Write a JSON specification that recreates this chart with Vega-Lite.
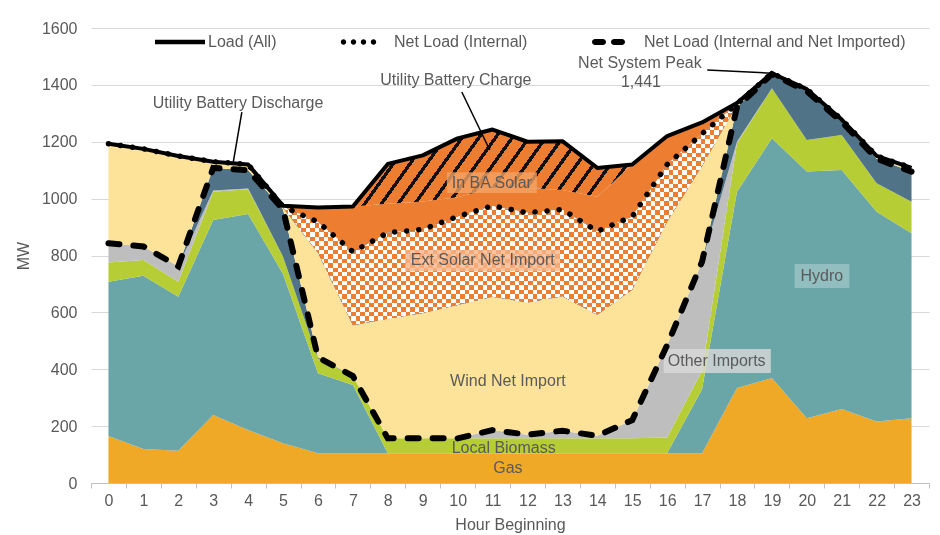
{
  "$schema": "https://vega.github.io/schema/vega-lite/v6.json",
  "width": 838,
  "height": 455,
  "autosize": {"type": "none"},
  "padding": {"left": 91, "top": 28, "right": 11, "bottom": 52},
  "background": "white",
  "config": {
    "font": "Liberation Sans",
    "view": {"stroke": null},
    "axis": {"labelFont": "Liberation Sans", "labelFontSize": 16, "labelColor": "#595959", "titleFont": "Liberation Sans", "titleFontSize": 16, "titleFontWeight": "normal", "titleColor": "#595959", "labelOverlap": false}
  },
  "resolve": {"axis": {"x": "independent", "y": "independent"}},
  "datasets": {
    "mix": [
      {"hour":0,"gas":165,"hydro":543,"biomass":67,"otherImports":68,"batteryDischarge":0,"wind":350,"extSolar":0,"inBASolar":0,"batteryCharge":0,"load":1193,"netInternal":1193,"netImported":843},
      {"hour":1,"gas":120,"hydro":609,"biomass":55,"otherImports":48,"batteryDischarge":0,"wind":343,"extSolar":0,"inBASolar":0,"batteryCharge":0,"load":1175,"netInternal":1175,"netImported":832},
      {"hour":2,"gas":113,"hydro":542,"biomass":53,"otherImports":54,"batteryDischarge":0,"wind":388,"extSolar":0,"inBASolar":0,"batteryCharge":0,"load":1150,"netInternal":1150,"netImported":762},
      {"hour":3,"gas":239,"hydro":686,"biomass":99,"otherImports":5,"batteryDischarge":79,"wind":22,"extSolar":0,"inBASolar":0,"batteryCharge":0,"load":1130,"netInternal":1130,"netImported":1108},
      {"hour":4,"gas":186,"hydro":760,"biomass":87,"otherImports":3,"batteryDischarge":64,"wind":20,"extSolar":0,"inBASolar":0,"batteryCharge":0,"load":1120,"netInternal":1120,"netImported":1100},
      {"hour":5,"gas":140,"hydro":595,"biomass":61,"otherImports":0,"batteryDischarge":166,"wind":6,"extSolar":4,"inBASolar":3,"batteryCharge":0,"load":975,"netInternal":972,"netImported":962},
      {"hour":6,"gas":105,"hydro":281,"biomass":52,"otherImports":0,"batteryDischarge":4,"wind":368,"extSolar":108,"inBASolar":51,"batteryCharge":0,"load":969,"netInternal":918,"netImported":442},
      {"hour":7,"gas":105,"hydro":240,"biomass":31,"otherImports":0,"batteryDischarge":0,"wind":179,"extSolar":258,"inBASolar":159,"batteryCharge":0,"load":972,"netInternal":813,"netImported":376},
      {"hour":8,"gas":105,"hydro":0,"biomass":52,"otherImports":0,"batteryDischarge":0,"wind":421,"extSolar":302,"inBASolar":102,"batteryCharge":140,"load":1122,"netInternal":880,"netImported":157},
      {"hour":9,"gas":105,"hydro":0,"biomass":52,"otherImports":0,"batteryDischarge":0,"wind":441,"extSolar":294,"inBASolar":98,"batteryCharge":162,"load":1152,"netInternal":892,"netImported":157},
      {"hour":10,"gas":105,"hydro":0,"biomass":52,"otherImports":0,"batteryDischarge":0,"wind":469,"extSolar":311,"inBASolar":68,"batteryCharge":207,"load":1212,"netInternal":937,"netImported":157},
      {"hour":11,"gas":105,"hydro":0,"biomass":52,"otherImports":29,"batteryDischarge":0,"wind":469,"extSolar":320,"inBASolar":63,"batteryCharge":205,"load":1243,"netInternal":975,"netImported":186},
      {"hour":12,"gas":105,"hydro":0,"biomass":52,"otherImports":13,"batteryDischarge":0,"wind":465,"extSolar":315,"inBASolar":87,"batteryCharge":163,"load":1200,"netInternal":950,"netImported":170},
      {"hour":13,"gas":105,"hydro":0,"biomass":52,"otherImports":27,"batteryDischarge":0,"wind":473,"extSolar":305,"inBASolar":68,"batteryCharge":172,"load":1202,"netInternal":962,"netImported":184},
      {"hour":14,"gas":105,"hydro":0,"biomass":52,"otherImports":9,"batteryDischarge":0,"wind":426,"extSolar":293,"inBASolar":122,"batteryCharge":101,"load":1108,"netInternal":885,"netImported":166},
      {"hour":15,"gas":105,"hydro":0,"biomass":52,"otherImports":64,"batteryDischarge":0,"wind":459,"extSolar":257,"inBASolar":183,"batteryCharge":0,"load":1120,"netInternal":937,"netImported":221},
      {"hour":16,"gas":105,"hydro":0,"biomass":55,"otherImports":325,"batteryDischarge":0,"wind":435,"extSolar":200,"inBASolar":100,"batteryCharge":0,"load":1220,"netInternal":1120,"netImported":485},
      {"hour":17,"gas":105,"hydro":225,"biomass":65,"otherImports":383,"batteryDischarge":0,"wind":337,"extSolar":113,"inBASolar":40,"batteryCharge":0,"load":1268,"netInternal":1228,"netImported":778},
      {"hour":18,"gas":334,"hydro":690,"biomass":171,"otherImports":5,"batteryDischarge":122,"wind":8,"extSolar":3,"inBASolar":3,"batteryCharge":0,"load":1336,"netInternal":1333,"netImported":1322},
      {"hour":19,"gas":369,"hydro":843,"biomass":176,"otherImports":0,"batteryDischarge":50,"wind":3,"extSolar":0,"inBASolar":0,"batteryCharge":0,"load":1441,"netInternal":1441,"netImported":1438},
      {"hour":20,"gas":228,"hydro":867,"biomass":111,"otherImports":0,"batteryDischarge":172,"wind":7,"extSolar":0,"inBASolar":0,"batteryCharge":0,"load":1385,"netInternal":1385,"netImported":1378},
      {"hour":21,"gas":260,"hydro":841,"biomass":123,"otherImports":0,"batteryDischarge":46,"wind":8,"extSolar":0,"inBASolar":0,"batteryCharge":0,"load":1278,"netInternal":1278,"netImported":1270},
      {"hour":22,"gas":216,"hydro":738,"biomass":100,"otherImports":0,"batteryDischarge":86,"wind":10,"extSolar":0,"inBASolar":0,"batteryCharge":0,"load":1150,"netInternal":1150,"netImported":1140},
      {"hour":23,"gas":228,"hydro":650,"biomass":111,"otherImports":0,"batteryDischarge":106,"wind":13,"extSolar":0,"inBASolar":0,"batteryCharge":0,"load":1108,"netInternal":1108,"netImported":1095}
    ],
    "boxes": [
      {"label":"In BA Solar","h1":9.69,"h2":12.27,"lo":1020,"hi":1093},
      {"label":"Ext Solar Net Import","h1":8.49,"h2":12.93,"lo":745,"hi":819},
      {"label":"Other Imports","h1":15.9,"h2":18.97,"lo":387,"hi":471},
      {"label":"Hydro","h1":19.65,"h2":21.22,"lo":686,"hi":770}
    ],
    "notes": [
      {"text":"In BA Solar","hour":10.98,"mw":1055},
      {"text":"Ext Solar Net Import","hour":10.72,"mw":783},
      {"text":"Wind Net Import","hour":11.44,"mw":359},
      {"text":"Other Imports","hour":17.42,"mw":429},
      {"text":"Hydro","hour":20.43,"mw":728},
      {"text":"Local Biomass","hour":11.32,"mw":123},
      {"text":"Gas","hour":11.44,"mw":53},
      {"text":"Utility Battery Discharge","hour":3.71,"mw":1336},
      {"text":"Utility Battery Charge","hour":9.95,"mw":1417},
      {"text":"Net System Peak","hour":15.22,"mw":1477},
      {"text":"1,441","hour":15.25,"mw":1410}
    ],
    "pointers": [
      {"name":"discharge","h1":3.82,"m1":1304,"h2":3.56,"m2":1118},
      {"name":"charge","h1":10.12,"m1":1375,"h2":10.92,"m2":1171},
      {"name":"peak","h1":17.15,"m1":1452,"h2":19,"m2":1441}
    ]
  },
  "data": {"name": "mix"},
  "layer": [
    {
      "mark": {"type": "point", "opacity": 0},
      "encoding": {
        "x": {"field": "hour", "type": "quantitative", "scale": {"domain": [-0.5, 23.5], "nice": false, "zero": false},
          "axis": {"orient": "bottom", "values": [0,1,2,3,4,5,6,7,8,9,10,11,12,13,14,15,16,17,18,19,20,21,22,23], "format": "d",
            "labelOverlap": false, "labelFlush": false, "labelBound": false, "grid": false, "domain": true, "domainColor": "#BFBFBF",
            "ticks": false, "labelPadding": 9, "title": "Hour Beginning", "titlePadding": 8}},
        "y": {"field": "load", "type": "quantitative", "scale": {"domain": [0, 1600], "nice": false},
          "axis": {"orient": "left", "values": [0,200,400,600,800,1000,1200,1400,1600], "format": "d", "grid": true, "gridColor": "#D9D9D9", "domain": false, "ticks": false, "labelPadding": 14, "title": "MW", "titlePadding": 10}}
      }
    },
    {
      "mark": {"type": "point", "opacity": 0},
      "encoding": {
        "x": {"field": "hour", "type": "quantitative", "scale": {"domain": [-0.5, 23.5], "nice": false, "zero": false},
          "axis": {"orient": "bottom", "values": [-0.5,0.5,1.5,2.5,3.5,4.5,5.5,6.5,7.5,8.5,9.5,10.5,11.5,12.5,13.5,14.5,15.5,16.5,17.5,18.5,19.5,20.5,21.5,22.5,23.5],
            "labels": false, "grid": false, "domain": false, "ticks": true, "tickColor": "#BFBFBF", "tickSize": 5, "title": null}},
        "y": {"field": "load", "type": "quantitative", "scale": {"domain": [0, 1600], "nice": false}, "axis": null}
      }
    },
    {
      "transform": [
        {"fold": ["gas","hydro","biomass","otherImports","batteryDischarge","wind","extSolar","inBASolar","batteryCharge"], "as": ["source","mw"]},
        {"stack": "mw", "groupby": ["hour"], "as": ["mw0","mw1"]}
      ],
      "layer": [
        {
          "transform": [{"filter": "datum.source !== 'batteryCharge'"}],
          "mark": {"type": "area", "interpolate": "linear"},
          "encoding": {
            "x": {"field": "hour", "type": "quantitative", "scale": {"domain": [-0.5, 23.5], "nice": false, "zero": false}, "axis": null},
            "y": {"field": "mw1", "type": "quantitative", "stack": null, "scale": {"domain": [0, 1600], "nice": false}, "axis": null},
            "y2": {"field": "mw0"},
            "color": {"field": "source", "type": "nominal", "legend": null,
              "scale": {"domain": ["gas","hydro","biomass","otherImports","batteryDischarge","wind","extSolar","inBASolar"],
                "range": ["#EFA926","#6AA5A7","#B6CD35","#BEBEBE","#507387","#FCE399","#F4B48A","#ED7D31"]}}
          }
        },
        {
          "transform": [{"filter": "datum.source === 'extSolar' && datum.hour >= 5 && datum.hour <= 18"}],
          "mark": {"type": "area", "interpolate": "linear",
            "fill": {"gradient": "linear", "x1": 0, "y1": 0, "x2": 1, "y2": 0, "stops": [
              {"offset":0,"color":"#000"},
              {"offset":0.01,"color":"#000"},{"offset":0.01,"color":"#fff"},{"offset":0.02,"color":"#fff"},{"offset":0.02,"color":"#000"},
              {"offset":0.03,"color":"#000"},{"offset":0.03,"color":"#fff"},{"offset":0.04,"color":"#fff"},{"offset":0.04,"color":"#000"},
              {"offset":0.05,"color":"#000"},{"offset":0.05,"color":"#fff"},{"offset":0.06,"color":"#fff"},{"offset":0.06,"color":"#000"},
              {"offset":0.07,"color":"#000"},{"offset":0.07,"color":"#fff"},{"offset":0.08,"color":"#fff"},{"offset":0.08,"color":"#000"},
              {"offset":0.09,"color":"#000"},{"offset":0.09,"color":"#fff"},{"offset":0.10,"color":"#fff"},{"offset":0.10,"color":"#000"},
              {"offset":0.11,"color":"#000"},{"offset":0.11,"color":"#fff"},{"offset":0.12,"color":"#fff"},{"offset":0.12,"color":"#000"},
              {"offset":0.13,"color":"#000"},{"offset":0.13,"color":"#fff"},{"offset":0.14,"color":"#fff"},{"offset":0.14,"color":"#000"},
              {"offset":0.15,"color":"#000"},{"offset":0.15,"color":"#fff"},{"offset":0.16,"color":"#fff"},{"offset":0.16,"color":"#000"},
              {"offset":0.17,"color":"#000"},{"offset":0.17,"color":"#fff"},{"offset":0.18,"color":"#fff"},{"offset":0.18,"color":"#000"},
              {"offset":0.19,"color":"#000"},{"offset":0.19,"color":"#fff"},{"offset":0.20,"color":"#fff"},{"offset":0.20,"color":"#000"},
              {"offset":0.21,"color":"#000"},{"offset":0.21,"color":"#fff"},{"offset":0.22,"color":"#fff"},{"offset":0.22,"color":"#000"},
              {"offset":0.23,"color":"#000"},{"offset":0.23,"color":"#fff"},{"offset":0.24,"color":"#fff"},{"offset":0.24,"color":"#000"},
              {"offset":0.25,"color":"#000"},{"offset":0.25,"color":"#fff"},{"offset":0.26,"color":"#fff"},{"offset":0.26,"color":"#000"},
              {"offset":0.27,"color":"#000"},{"offset":0.27,"color":"#fff"},{"offset":0.28,"color":"#fff"},{"offset":0.28,"color":"#000"},
              {"offset":0.29,"color":"#000"},{"offset":0.29,"color":"#fff"},{"offset":0.30,"color":"#fff"},{"offset":0.30,"color":"#000"},
              {"offset":0.31,"color":"#000"},{"offset":0.31,"color":"#fff"},{"offset":0.32,"color":"#fff"},{"offset":0.32,"color":"#000"},
              {"offset":0.33,"color":"#000"},{"offset":0.33,"color":"#fff"},{"offset":0.34,"color":"#fff"},{"offset":0.34,"color":"#000"},
              {"offset":0.35,"color":"#000"},{"offset":0.35,"color":"#fff"},{"offset":0.36,"color":"#fff"},{"offset":0.36,"color":"#000"},
              {"offset":0.37,"color":"#000"},{"offset":0.37,"color":"#fff"},{"offset":0.38,"color":"#fff"},{"offset":0.38,"color":"#000"},
              {"offset":0.39,"color":"#000"},{"offset":0.39,"color":"#fff"},{"offset":0.40,"color":"#fff"},{"offset":0.40,"color":"#000"},
              {"offset":0.41,"color":"#000"},{"offset":0.41,"color":"#fff"},{"offset":0.42,"color":"#fff"},{"offset":0.42,"color":"#000"},
              {"offset":0.43,"color":"#000"},{"offset":0.43,"color":"#fff"},{"offset":0.44,"color":"#fff"},{"offset":0.44,"color":"#000"},
              {"offset":0.45,"color":"#000"},{"offset":0.45,"color":"#fff"},{"offset":0.46,"color":"#fff"},{"offset":0.46,"color":"#000"},
              {"offset":0.47,"color":"#000"},{"offset":0.47,"color":"#fff"},{"offset":0.48,"color":"#fff"},{"offset":0.48,"color":"#000"},
              {"offset":0.49,"color":"#000"},{"offset":0.49,"color":"#fff"},{"offset":0.50,"color":"#fff"},{"offset":0.50,"color":"#000"},
              {"offset":0.51,"color":"#000"},{"offset":0.51,"color":"#fff"},{"offset":0.52,"color":"#fff"},{"offset":0.52,"color":"#000"},
              {"offset":0.53,"color":"#000"},{"offset":0.53,"color":"#fff"},{"offset":0.54,"color":"#fff"},{"offset":0.54,"color":"#000"},
              {"offset":0.55,"color":"#000"},{"offset":0.55,"color":"#fff"},{"offset":0.56,"color":"#fff"},{"offset":0.56,"color":"#000"},
              {"offset":0.57,"color":"#000"},{"offset":0.57,"color":"#fff"},{"offset":0.58,"color":"#fff"},{"offset":0.58,"color":"#000"},
              {"offset":0.59,"color":"#000"},{"offset":0.59,"color":"#fff"},{"offset":0.60,"color":"#fff"},{"offset":0.60,"color":"#000"},
              {"offset":0.61,"color":"#000"},{"offset":0.61,"color":"#fff"},{"offset":0.62,"color":"#fff"},{"offset":0.62,"color":"#000"},
              {"offset":0.63,"color":"#000"},{"offset":0.63,"color":"#fff"},{"offset":0.64,"color":"#fff"},{"offset":0.64,"color":"#000"},
              {"offset":0.65,"color":"#000"},{"offset":0.65,"color":"#fff"},{"offset":0.66,"color":"#fff"},{"offset":0.66,"color":"#000"},
              {"offset":0.67,"color":"#000"},{"offset":0.67,"color":"#fff"},{"offset":0.68,"color":"#fff"},{"offset":0.68,"color":"#000"},
              {"offset":0.69,"color":"#000"},{"offset":0.69,"color":"#fff"},{"offset":0.70,"color":"#fff"},{"offset":0.70,"color":"#000"},
              {"offset":0.71,"color":"#000"},{"offset":0.71,"color":"#fff"},{"offset":0.72,"color":"#fff"},{"offset":0.72,"color":"#000"},
              {"offset":0.73,"color":"#000"},{"offset":0.73,"color":"#fff"},{"offset":0.74,"color":"#fff"},{"offset":0.74,"color":"#000"},
              {"offset":0.75,"color":"#000"},{"offset":0.75,"color":"#fff"},{"offset":0.76,"color":"#fff"},{"offset":0.76,"color":"#000"},
              {"offset":0.77,"color":"#000"},{"offset":0.77,"color":"#fff"},{"offset":0.78,"color":"#fff"},{"offset":0.78,"color":"#000"},
              {"offset":0.79,"color":"#000"},{"offset":0.79,"color":"#fff"},{"offset":0.80,"color":"#fff"},{"offset":0.80,"color":"#000"},
              {"offset":0.81,"color":"#000"},{"offset":0.81,"color":"#fff"},{"offset":0.82,"color":"#fff"},{"offset":0.82,"color":"#000"},
              {"offset":0.83,"color":"#000"},{"offset":0.83,"color":"#fff"},{"offset":0.84,"color":"#fff"},{"offset":0.84,"color":"#000"},
              {"offset":0.85,"color":"#000"},{"offset":0.85,"color":"#fff"},{"offset":0.86,"color":"#fff"},{"offset":0.86,"color":"#000"},
              {"offset":0.87,"color":"#000"},{"offset":0.87,"color":"#fff"},{"offset":0.88,"color":"#fff"},{"offset":0.88,"color":"#000"},
              {"offset":0.89,"color":"#000"},{"offset":0.89,"color":"#fff"},{"offset":0.90,"color":"#fff"},{"offset":0.90,"color":"#000"},
              {"offset":0.91,"color":"#000"},{"offset":0.91,"color":"#fff"},{"offset":0.92,"color":"#fff"},{"offset":0.92,"color":"#000"},
              {"offset":0.93,"color":"#000"},{"offset":0.93,"color":"#fff"},{"offset":0.94,"color":"#fff"},{"offset":0.94,"color":"#000"},
              {"offset":0.95,"color":"#000"},{"offset":0.95,"color":"#fff"},{"offset":0.96,"color":"#fff"},{"offset":0.96,"color":"#000"},
              {"offset":0.97,"color":"#000"},{"offset":0.97,"color":"#fff"},{"offset":0.98,"color":"#fff"},{"offset":0.98,"color":"#000"},
              {"offset":0.99,"color":"#000"},{"offset":0.99,"color":"#fff"},{"offset":1,"color":"#fff"}
            ]}},
          "encoding": {
            "x": {"field": "hour", "type": "quantitative", "scale": {"domain": [-0.5, 23.5], "nice": false, "zero": false}, "axis": null},
            "y": {"field": "mw1", "type": "quantitative", "stack": null, "scale": {"domain": [0, 1600], "nice": false}, "axis": null},
            "y2": {"field": "mw0"}
          }
        },
        {
          "transform": [{"filter": "datum.source === 'extSolar' && datum.hour >= 5 && datum.hour <= 18"}],
          "mark": {"type": "area", "interpolate": "linear", "blend": "difference",
            "fill": {"gradient": "linear", "x1": 0, "y1": 0, "x2": 0, "y2": 1, "stops": [
              {"offset":0,"color":"#000"},
              {"offset":0.02,"color":"#000"},{"offset":0.02,"color":"#fff"},{"offset":0.04,"color":"#fff"},{"offset":0.04,"color":"#000"},
              {"offset":0.06,"color":"#000"},{"offset":0.06,"color":"#fff"},{"offset":0.08,"color":"#fff"},{"offset":0.08,"color":"#000"},
              {"offset":0.10,"color":"#000"},{"offset":0.10,"color":"#fff"},{"offset":0.12,"color":"#fff"},{"offset":0.12,"color":"#000"},
              {"offset":0.14,"color":"#000"},{"offset":0.14,"color":"#fff"},{"offset":0.16,"color":"#fff"},{"offset":0.16,"color":"#000"},
              {"offset":0.18,"color":"#000"},{"offset":0.18,"color":"#fff"},{"offset":0.20,"color":"#fff"},{"offset":0.20,"color":"#000"},
              {"offset":0.22,"color":"#000"},{"offset":0.22,"color":"#fff"},{"offset":0.24,"color":"#fff"},{"offset":0.24,"color":"#000"},
              {"offset":0.26,"color":"#000"},{"offset":0.26,"color":"#fff"},{"offset":0.28,"color":"#fff"},{"offset":0.28,"color":"#000"},
              {"offset":0.30,"color":"#000"},{"offset":0.30,"color":"#fff"},{"offset":0.32,"color":"#fff"},{"offset":0.32,"color":"#000"},
              {"offset":0.34,"color":"#000"},{"offset":0.34,"color":"#fff"},{"offset":0.36,"color":"#fff"},{"offset":0.36,"color":"#000"},
              {"offset":0.38,"color":"#000"},{"offset":0.38,"color":"#fff"},{"offset":0.40,"color":"#fff"},{"offset":0.40,"color":"#000"},
              {"offset":0.42,"color":"#000"},{"offset":0.42,"color":"#fff"},{"offset":0.44,"color":"#fff"},{"offset":0.44,"color":"#000"},
              {"offset":0.46,"color":"#000"},{"offset":0.46,"color":"#fff"},{"offset":0.48,"color":"#fff"},{"offset":0.48,"color":"#000"},
              {"offset":0.50,"color":"#000"},{"offset":0.50,"color":"#fff"},{"offset":0.52,"color":"#fff"},{"offset":0.52,"color":"#000"},
              {"offset":0.54,"color":"#000"},{"offset":0.54,"color":"#fff"},{"offset":0.56,"color":"#fff"},{"offset":0.56,"color":"#000"},
              {"offset":0.58,"color":"#000"},{"offset":0.58,"color":"#fff"},{"offset":0.60,"color":"#fff"},{"offset":0.60,"color":"#000"},
              {"offset":0.62,"color":"#000"},{"offset":0.62,"color":"#fff"},{"offset":0.64,"color":"#fff"},{"offset":0.64,"color":"#000"},
              {"offset":0.66,"color":"#000"},{"offset":0.66,"color":"#fff"},{"offset":0.68,"color":"#fff"},{"offset":0.68,"color":"#000"},
              {"offset":0.70,"color":"#000"},{"offset":0.70,"color":"#fff"},{"offset":0.72,"color":"#fff"},{"offset":0.72,"color":"#000"},
              {"offset":0.74,"color":"#000"},{"offset":0.74,"color":"#fff"},{"offset":0.76,"color":"#fff"},{"offset":0.76,"color":"#000"},
              {"offset":0.78,"color":"#000"},{"offset":0.78,"color":"#fff"},{"offset":0.80,"color":"#fff"},{"offset":0.80,"color":"#000"},
              {"offset":0.82,"color":"#000"},{"offset":0.82,"color":"#fff"},{"offset":0.84,"color":"#fff"},{"offset":0.84,"color":"#000"},
              {"offset":0.86,"color":"#000"},{"offset":0.86,"color":"#fff"},{"offset":0.88,"color":"#fff"},{"offset":0.88,"color":"#000"},
              {"offset":0.90,"color":"#000"},{"offset":0.90,"color":"#fff"},{"offset":0.92,"color":"#fff"},{"offset":0.92,"color":"#000"},
              {"offset":0.94,"color":"#000"},{"offset":0.94,"color":"#fff"},{"offset":0.96,"color":"#fff"},{"offset":0.96,"color":"#000"},
              {"offset":0.98,"color":"#000"},{"offset":0.98,"color":"#fff"},{"offset":1,"color":"#fff"}
            ]}},
          "encoding": {
            "x": {"field": "hour", "type": "quantitative", "scale": {"domain": [-0.5, 23.5], "nice": false, "zero": false}, "axis": null},
            "y": {"field": "mw1", "type": "quantitative", "stack": null, "scale": {"domain": [0, 1600], "nice": false}, "axis": null},
            "y2": {"field": "mw0"}
          }
        },
        {
          "transform": [{"filter": "datum.source === 'extSolar' && datum.hour >= 5 && datum.hour <= 18"}],
          "mark": {"type": "area", "interpolate": "linear", "blend": "screen", "fill": "#ED7D31"},
          "encoding": {
            "x": {"field": "hour", "type": "quantitative", "scale": {"domain": [-0.5, 23.5], "nice": false, "zero": false}, "axis": null},
            "y": {"field": "mw1", "type": "quantitative", "stack": null, "scale": {"domain": [0, 1600], "nice": false}, "axis": null},
            "y2": {"field": "mw0"}
          }
        },
        {
          "transform": [{"filter": "datum.source === 'batteryCharge' && datum.hour >= 7 && datum.hour <= 15"}],
          "mark": {"type": "area", "interpolate": "linear",
            "fill": {"gradient": "linear", "x1": 0, "y1": 0, "x2": 1.153, "y2": 0.227, "stops": [
              {"offset":0,"color":"#ED7D31"},{"offset":0.0375,"color":"#ED7D31"},{"offset":0.0375,"color":"#111111"},{"offset":0.05,"color":"#111111"},
              {"offset":0.05,"color":"#ED7D31"},{"offset":0.0875,"color":"#ED7D31"},{"offset":0.0875,"color":"#111111"},{"offset":0.1,"color":"#111111"},
              {"offset":0.1,"color":"#ED7D31"},{"offset":0.1375,"color":"#ED7D31"},{"offset":0.1375,"color":"#111111"},{"offset":0.15,"color":"#111111"},
              {"offset":0.15,"color":"#ED7D31"},{"offset":0.1875,"color":"#ED7D31"},{"offset":0.1875,"color":"#111111"},{"offset":0.2,"color":"#111111"},
              {"offset":0.2,"color":"#ED7D31"},{"offset":0.2375,"color":"#ED7D31"},{"offset":0.2375,"color":"#111111"},{"offset":0.25,"color":"#111111"},
              {"offset":0.25,"color":"#ED7D31"},{"offset":0.2875,"color":"#ED7D31"},{"offset":0.2875,"color":"#111111"},{"offset":0.3,"color":"#111111"},
              {"offset":0.3,"color":"#ED7D31"},{"offset":0.3375,"color":"#ED7D31"},{"offset":0.3375,"color":"#111111"},{"offset":0.35,"color":"#111111"},
              {"offset":0.35,"color":"#ED7D31"},{"offset":0.3875,"color":"#ED7D31"},{"offset":0.3875,"color":"#111111"},{"offset":0.4,"color":"#111111"},
              {"offset":0.4,"color":"#ED7D31"},{"offset":0.4375,"color":"#ED7D31"},{"offset":0.4375,"color":"#111111"},{"offset":0.45,"color":"#111111"},
              {"offset":0.45,"color":"#ED7D31"},{"offset":0.4875,"color":"#ED7D31"},{"offset":0.4875,"color":"#111111"},{"offset":0.5,"color":"#111111"},
              {"offset":0.5,"color":"#ED7D31"},{"offset":0.5375,"color":"#ED7D31"},{"offset":0.5375,"color":"#111111"},{"offset":0.55,"color":"#111111"},
              {"offset":0.55,"color":"#ED7D31"},{"offset":0.5875,"color":"#ED7D31"},{"offset":0.5875,"color":"#111111"},{"offset":0.6,"color":"#111111"},
              {"offset":0.6,"color":"#ED7D31"},{"offset":0.6375,"color":"#ED7D31"},{"offset":0.6375,"color":"#111111"},{"offset":0.65,"color":"#111111"},
              {"offset":0.65,"color":"#ED7D31"},{"offset":0.6875,"color":"#ED7D31"},{"offset":0.6875,"color":"#111111"},{"offset":0.7,"color":"#111111"},
              {"offset":0.7,"color":"#ED7D31"},{"offset":0.7375,"color":"#ED7D31"},{"offset":0.7375,"color":"#111111"},{"offset":0.75,"color":"#111111"},
              {"offset":0.75,"color":"#ED7D31"},{"offset":0.7875,"color":"#ED7D31"},{"offset":0.7875,"color":"#111111"},{"offset":0.8,"color":"#111111"},
              {"offset":0.8,"color":"#ED7D31"},{"offset":0.8375,"color":"#ED7D31"},{"offset":0.8375,"color":"#111111"},{"offset":0.85,"color":"#111111"},
              {"offset":0.85,"color":"#ED7D31"},{"offset":0.8875,"color":"#ED7D31"},{"offset":0.8875,"color":"#111111"},{"offset":0.9,"color":"#111111"},
              {"offset":0.9,"color":"#ED7D31"},{"offset":0.9375,"color":"#ED7D31"},{"offset":0.9375,"color":"#111111"},{"offset":0.95,"color":"#111111"},
              {"offset":0.95,"color":"#ED7D31"},{"offset":0.9875,"color":"#ED7D31"},{"offset":0.9875,"color":"#111111"},{"offset":1,"color":"#111111"}
            ]}},
          "encoding": {
            "x": {"field": "hour", "type": "quantitative", "scale": {"domain": [-0.5, 23.5], "nice": false, "zero": false}, "axis": null},
            "y": {"field": "mw1", "type": "quantitative", "stack": null, "scale": {"domain": [0, 1600], "nice": false}, "axis": null},
            "y2": {"field": "mw0"}
          }
        }
      ]
    },
    {
      "data": {"name": "boxes"},
      "mark": {"type": "rect", "opacity": 0.8},
      "encoding": {
        "x": {"field": "h1", "type": "quantitative", "scale": {"domain": [-0.5, 23.5], "nice": false, "zero": false}, "axis": null},
        "x2": {"field": "h2"},
        "y": {"field": "lo", "type": "quantitative", "scale": {"domain": [0, 1600], "nice": false}, "axis": null},
        "y2": {"field": "hi"},
        "fill": {"field": "label", "type": "nominal", "legend": null,
          "scale": {"domain": ["In BA Solar", "Ext Solar Net Import", "Other Imports", "Hydro"], "range": ["#F4A265", "#F6B48A", "#DADADA", "#9CC4C6"]}}
      }
    },
    {
      "data": {"name": "notes"},
      "mark": {"type": "text", "font": "Liberation Sans", "fontSize": 16, "color": "#5A5A5A", "align": "center", "baseline": "middle"},
      "encoding": {
        "x": {"field": "hour", "type": "quantitative", "scale": {"domain": [-0.5, 23.5], "nice": false, "zero": false}, "axis": null},
        "y": {"field": "mw", "type": "quantitative", "scale": {"domain": [0, 1600], "nice": false}, "axis": null},
        "text": {"field": "text"}
      }
    },
    {
      "mark": {"type": "line", "color": "black", "strokeWidth": 4, "strokeJoin": "round"},
      "encoding": {
        "x": {"field": "hour", "type": "quantitative", "scale": {"domain": [-0.5, 23.5], "nice": false, "zero": false}, "axis": null},
        "y": {"field": "load", "type": "quantitative", "scale": {"domain": [0, 1600], "nice": false}, "axis": null}
      }
    },
    {
      "mark": {"type": "line", "color": "black", "strokeWidth": 5.5, "strokeDash": [0.1, 12], "strokeCap": "round"},
      "encoding": {
        "x": {"field": "hour", "type": "quantitative", "scale": {"domain": [-0.5, 23.5], "nice": false, "zero": false}, "axis": null},
        "y": {"field": "netInternal", "type": "quantitative", "scale": {"domain": [0, 1600], "nice": false}, "axis": null}
      }
    },
    {
      "mark": {"type": "line", "color": "black", "strokeWidth": 6, "strokeDash": [11, 14], "strokeCap": "round"},
      "encoding": {
        "x": {"field": "hour", "type": "quantitative", "scale": {"domain": [-0.5, 23.5], "nice": false, "zero": false}, "axis": null},
        "y": {"field": "netImported", "type": "quantitative", "scale": {"domain": [0, 1600], "nice": false}, "axis": null}
      }
    },
    {
      "data": {"name": "pointers"},
      "mark": {"type": "rule", "color": "black", "strokeWidth": 1.5},
      "encoding": {
        "x": {"field": "h1", "type": "quantitative", "scale": {"domain": [-0.5, 23.5], "nice": false, "zero": false}, "axis": null},
        "x2": {"field": "h2"},
        "y": {"field": "m1", "type": "quantitative", "scale": {"domain": [0, 1600], "nice": false}, "axis": null},
        "y2": {"field": "m2"}
      }
    },
    {
      "data": {"values": [{"series": "Load (All)"}, {"series": "Net Load (Internal)"}, {"series": "Net Load (Internal and Net Imported)"}]},
      "mark": {"type": "point", "filled": true, "fill": "black", "opacity": 0},
      "encoding": {
        "shape": {"field": "series", "type": "nominal",
          "scale": {"domain": ["Load (All)", "Net Load (Internal)", "Net Load (Internal and Net Imported)"],
            "range": [
              "M-1,-0.09H1V0.09H-1Z",
              "M-1.008,0A0.108,0.108 0 1,0 -0.792,0A0.108,0.108 0 1,0 -1.008,0ZM-0.608,0A0.108,0.108 0 1,0 -0.392,0A0.108,0.108 0 1,0 -0.608,0ZM-0.208,0A0.108,0.108 0 1,0 0.008,0A0.108,0.108 0 1,0 -0.208,0ZM0.192,0A0.108,0.108 0 1,0 0.408,0A0.108,0.108 0 1,0 0.192,0Z",
              "M-0.84,-0.12H-0.52A0.12,0.12 0 0 1 -0.52,0.12H-0.84A0.12,0.12 0 0 1 -0.84,-0.12ZM-0.08,-0.12H0.24A0.12,0.12 0 0 1 0.24,0.12H-0.08A0.12,0.12 0 0 1 -0.08,-0.12Z"
            ]},
          "legend": {"orient": "none", "legendX": 64, "legendY": -11, "direction": "horizontal", "title": null,
            "symbolSize": 2500, "symbolFillColor": "black", "symbolStrokeWidth": 0, "symbolOpacity": 1, "symbolOffset": 0,
            "labelFont": "Liberation Sans", "labelFontSize": 16, "labelColor": "#595959", "labelOffset": 3, "labelLimit": 400,
            "columnPadding": 63, "padding": 0}}
      }
    }
  ]
}
